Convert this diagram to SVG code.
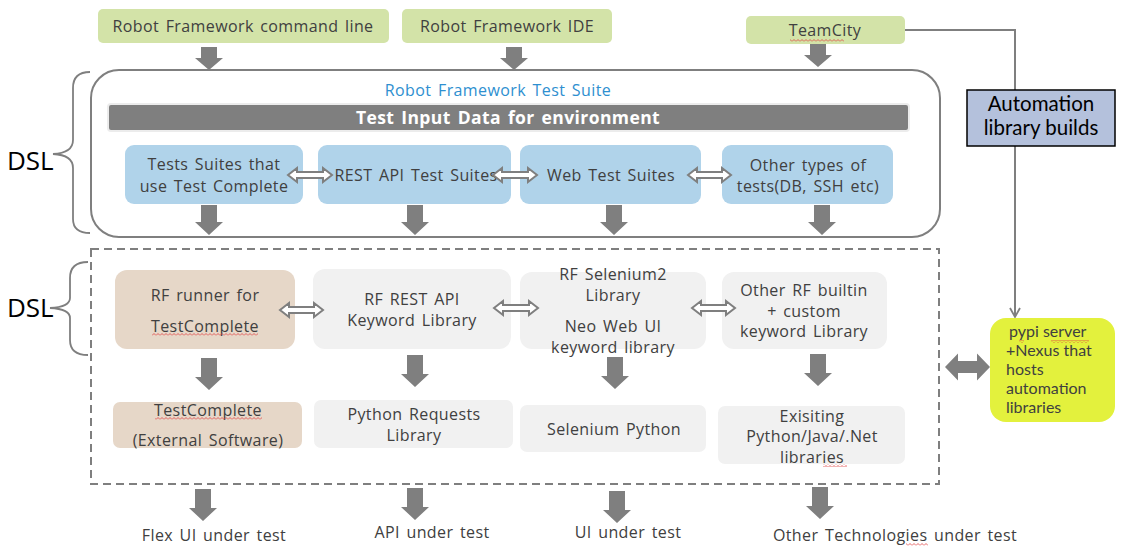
<svg xmlns="http://www.w3.org/2000/svg" width="1121" height="551" viewBox="0 0 1121 551">
<defs>
<style>
.t{font-family:"Open Sans","Noto Sans",sans-serif;font-size:16px;fill:#404040;text-anchor:middle;letter-spacing:0.4px;word-spacing:2px}
.g{fill:#d3e3a8}
.b{fill:#b0d3ea}
.tan{fill:#e6d7c8}
.lg{fill:#f1f1f1}
.dn{fill:#7f7f7f}
.dbl{fill:#fff;stroke:#7f7f7f;stroke-width:2;stroke-linejoin:miter}
.br{fill:none;stroke:#7f7f7f;stroke-width:1.8}
.dsl{font-family:"Open Sans","Noto Sans",sans-serif;font-size:26px;fill:#000}
.cal{font-family:Lato,"Open Sans",sans-serif;font-size:16px;fill:#404040}
.sq{fill:url(#sqp)}
</style>
<pattern id="sqp" width="4" height="3" patternUnits="userSpaceOnUse"><path d="M0 2.5 L2 0.5 L4 2.5" fill="none" stroke="#e04040" stroke-width="0.8"/></pattern>
<marker id="open" markerWidth="12" markerHeight="12" refX="10" refY="6" orient="auto" markerUnits="userSpaceOnUse"><path d="M1 1 L10 6 L1 11" fill="none" stroke="#7f7f7f" stroke-width="1.8"/></marker>
</defs>
<rect width="1121" height="551" fill="#fff"/>

<g id="dsl-braces">
<path class="br" d="M90 72 Q73 72 73 88 L73 140 Q73 153 53 154 Q73 155 73 168 L73 219 Q73 233 90 233"/>
<text class="dsl" x="7" y="170">DSL</text>
<path class="br" d="M88 262 Q70 262 70 278 L70 298 Q70 307 50 308 Q70 309 70 318 L70 340 Q70 355 88 355"/>
<text class="dsl" x="7" y="317">DSL</text>
</g>

<g id="cmdline"><rect class="g" x="98" y="9" width="291" height="34" rx="5"/><text class="t" x="243" y="32">Robot Framework command line</text></g>
<g id="ide"><rect class="g" x="402" y="9" width="210" height="34" rx="5"/><text class="t" x="507" y="32">Robot Framework IDE</text></g>
<g id="teamcity"><rect class="g" x="746" y="16" width="159" height="28" rx="5"/><text class="t" x="825" y="36">TeamCity</text><rect class="sq" x="790" y="39" width="54" height="3"/></g>

<g id="connectors">
<path class="dn" d="M201 47 h16 v11 h6 l-14 12 l-14 -12 h6 z"/>
<path class="dn" d="M506 47 h16 v11 h6 l-14 12 l-14 -12 h6 z"/>
<path class="dn" d="M810 44 h16 v11 h6 l-14 12 l-14 -12 h6 z"/>
<path d="M905 30 H1015 V317" fill="none" stroke="#7f7f7f" stroke-width="2" marker-end="url(#open)"/>
</g>

<g id="test-suite">
<rect x="91" y="70" width="849" height="167" rx="28" fill="#fff" stroke="#7f7f7f" stroke-width="2"/>
<text class="t" x="498" y="96" style="fill:#2e8fd0">Robot Framework Test Suite</text>
</g>
<g id="input-data">
<rect x="108" y="104" width="801" height="27" rx="3" fill="#7f7f7f" stroke="#ececec" stroke-width="2"/>
<text class="t" x="508" y="124" style="fill:#fff;font-weight:bold;font-size:17.5px">Test Input Data for environment</text>
</g>
<g id="suite-tc"><rect class="b" x="125" y="145" width="178" height="59" rx="9"/><text class="t" x="214" y="170">Tests Suites that</text><text class="t" x="214" y="192">use Test Complete</text></g>
<g id="suite-rest"><rect class="b" x="318" y="145" width="193" height="59" rx="9"/><text class="t" x="416" y="181">REST API Test Suites</text></g>
<g id="suite-web"><rect class="b" x="520" y="145" width="181" height="59" rx="9"/><text class="t" x="611" y="181">Web Test Suites</text></g>
<g id="suite-other"><rect class="b" x="722" y="145" width="171" height="59" rx="9"/><text class="t" x="808" y="171">Other types of</text><text class="t" x="808" y="192">tests(DB, SSH etc)</text></g>

<g id="libs-box"><rect x="91" y="249" width="848" height="235" fill="none" stroke="#7f7f7f" stroke-width="2" stroke-dasharray="8 5"/></g>

<g id="rf-runner"><rect class="tan" x="115" y="270" width="180" height="79" rx="12"/><text class="t" x="205" y="301">RF runner for</text><text class="t" x="205" y="332">TestComplete</text><rect class="sq" x="152" y="333" width="106" height="3"/></g>
<g id="rf-rest"><rect class="lg" x="313" y="269" width="198" height="80" rx="12"/><text class="t" x="412" y="305">RF REST API</text><text class="t" x="412" y="326">Keyword Library</text></g>
<g id="rf-selenium"><rect class="lg" x="520" y="272" width="186" height="77" rx="12"/><text class="t" x="613" y="280">RF Selenium2</text><text class="t" x="613" y="301">Library</text><text class="t" x="613" y="332">Neo Web UI</text><text class="t" x="613" y="353">keyword library</text></g>
<g id="rf-other"><rect class="lg" x="722" y="272" width="165" height="77" rx="12"/><text class="t" x="804" y="296">Other RF builtin</text><text class="t" x="804" y="317">+ custom</text><text class="t" x="804" y="337">keyword Library</text></g>

<g id="testcomplete"><rect class="tan" x="113" y="402" width="189" height="46" rx="7"/><text class="t" x="208" y="416">TestComplete</text><rect class="sq" x="155" y="417" width="107" height="3"/><text class="t" x="208" y="446">(External Software)</text></g>
<g id="py-requests"><rect class="lg" x="314" y="400" width="199" height="48" rx="7"/><text class="t" x="414" y="420">Python Requests</text><text class="t" x="414" y="441">Library</text></g>
<g id="selenium-python"><rect class="lg" x="520" y="405" width="186" height="47" rx="7"/><text class="t" x="614" y="435">Selenium Python</text></g>
<g id="existing"><rect class="lg" x="718" y="406" width="187" height="58" rx="7"/><text class="t" x="812" y="422">Exisiting</text><text class="t" x="812" y="442">Python/Java/.Net</text><text class="t" x="812" y="463">libraries</text><rect class="sq" x="823" y="464" width="24" height="3"/></g>

<g id="targets">
<text class="t" x="214" y="541">Flex UI under test</text>
<text class="t" x="432" y="538">API under test</text>
<text class="t" x="628" y="538">UI under test</text>
<text class="t" x="895" y="541">Other Technologies under test</text><rect class="sq" x="906" y="543" width="22" height="3"/>
</g>

<g id="flow-arrows">
<path class="dn" d="M201 205 h16 v17 h6 l-14 13 l-14 -13 h6 z"/>
<path class="dn" d="M407 205 h16 v17 h6 l-14 13 l-14 -13 h6 z"/>
<path class="dn" d="M606 205 h16 v17 h6 l-14 13 l-14 -13 h6 z"/>
<path class="dn" d="M814 205 h16 v17 h6 l-14 13 l-14 -13 h6 z"/>
<path class="dn" d="M201 358 h16 v19 h6 l-14 13 l-14 -13 h6 z"/>
<path class="dn" d="M407 355 h16 v19 h6 l-14 13 l-14 -13 h6 z"/>
<path class="dn" d="M607 357 h16 v19 h6 l-14 13 l-14 -13 h6 z"/>
<path class="dn" d="M810 354 h16 v19 h6 l-14 13 l-14 -13 h6 z"/>
<path class="dn" d="M195 489 h16 v19 h6 l-14 13 l-14 -13 h6 z"/>
<path class="dn" d="M407 488 h16 v19 h6 l-14 13 l-14 -13 h6 z"/>
<path class="dn" d="M609 491 h16 v19 h6 l-14 13 l-14 -13 h6 z"/>
<path class="dn" d="M812 487 h16 v19 h6 l-14 13 l-14 -13 h6 z"/>
<path class="dbl" d="M288 175 l9 -7 v4 h26 v-4 l9 7 l-9 7 v-4 h-26 v4 z"/>
<path class="dbl" d="M493 175 l9 -7 v4 h26 v-4 l9 7 l-9 7 v-4 h-26 v4 z"/>
<path class="dbl" d="M688 175 l9 -7 v4 h25 v-4 l9 7 l-9 7 v-4 h-25 v4 z"/>
<path class="dbl" d="M280 310 l9 -7 v4 h25 v-4 l9 7 l-9 7 v-4 h-25 v4 z"/>
<path class="dbl" d="M494 308 l9 -7 v4 h26 v-4 l9 7 l-9 7 v-4 h-26 v4 z"/>
<path class="dbl" d="M692 308 l9 -7 v4 h25 v-4 l9 7 l-9 7 v-4 h-25 v4 z"/>
<path class="dn" d="M945 367 l13 -13.5 v7.5 h19 v-7.5 l13 13.5 l-13 13.5 v-7.5 h-19 v7.5 z"/>
</g>

<g id="automation-builds"><rect x="967" y="90" width="148" height="56" fill="#b4c1dc" stroke="#000" stroke-width="1.5"/><text class="cal" x="1041" y="111" style="fill:#000;font-size:20.5px;text-anchor:middle">Automation</text><text class="cal" x="1041" y="135" style="fill:#000;font-size:20.5px;text-anchor:middle">library builds</text></g>

<g id="pypi"><rect x="990" y="318" width="125" height="104" rx="16" fill="#e3f13d"/>
<text class="cal" x="1009" y="337">pypi server</text><rect class="sq" x="1019" y="340" width="5" height="3"/><rect class="sq" x="1051" y="340" width="38" height="3"/>
<text class="cal" x="1006" y="356">+Nexus that</text>
<text class="cal" x="1006" y="375">hosts</text>
<text class="cal" x="1006" y="394">automation</text>
<text class="cal" x="1006" y="413">libraries</text></g>
</svg>
